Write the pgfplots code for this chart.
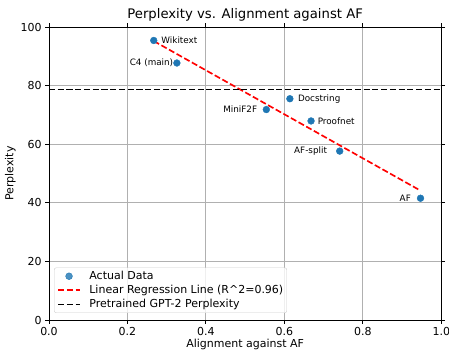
\documentclass[border=0pt]{standalone}
\usepackage{pgfplots}
\pgfplotsset{compat=1.18}
\usepackage{fontspec}
\setmainfont{DejaVu Sans}
\definecolor{tabblue}{HTML}{1F77B4}
\begin{document}
\begin{tikzpicture}
\useasboundingbox (-49pt,-32pt) rectangle (400pt,320pt);
\begin{axis}[
  at={(0pt,0pt)}, anchor=south west,
  scale only axis,
  width=392.3pt, height=292.7pt,
  xmin=0, xmax=1, ymin=0, ymax=100,
  xtick={0,0.2,0.4,0.6,0.8,1.0},
  ytick={0,20,40,60,80,100},
  xticklabel style={/pgf/number format/.cd,fixed,fixed zerofill,precision=1},
  /pgf/number format/assume math mode=true,
  tick label style={font=\fontsize{11}{13}\selectfont},
  tick align=outside,
  major tick length=3.85pt,
  tick style={black, line width=0.88pt},
  axis line style={line width=0.88pt},
  grid=major,
  grid style={color=black!31, line width=0.88pt},
  title={Perplexity vs. Alignment against AF},
  title style={font=\fontsize{13.2}{15}\selectfont, yshift=-3pt},
  xlabel={Alignment against AF},
  ylabel={Perplexity},
  label style={font=\fontsize{11}{13}\selectfont},
  xlabel style={yshift=3pt},
  ylabel style={yshift=-2pt},
  legend cell align=left,
  legend style={at={(rel axis cs:0.0128,0.024)}, anchor=south west,
    font=\fontsize{11}{13}\selectfont, draw=black!20, rounded corners=2pt,
    fill=white, fill opacity=0.8, text opacity=1, inner xsep=3pt, inner ysep=3pt,
    nodes={inner sep=0.5pt}, column sep=8pt, row sep=3.2pt},
  legend image code/.code={\draw[#1] (0pt,0pt) -- (22pt,0pt);},
]
\addplot[only marks, mark=*, mark size=3.4pt, mark options={fill=tabblue, draw=tabblue},
  legend image code/.code={\draw[mark repeat=2,mark phase=2] plot coordinates {(0pt,0pt) (11pt,0pt) (22pt,0pt)};}]
  coordinates {
  (0.267,95.5) (0.326,87.8) (0.554,71.9) (0.614,75.6) (0.668,68.0) (0.741,57.7) (0.947,41.6)
  };
\addlegendentry{Actual Data}
\addplot[red, line width=1.65pt, dash pattern=on 6.1pt off 2.64pt]
  coordinates {(0.267,95.3) (0.947,44.2)};
\addlegendentry{Linear Regression Line (R\^{}2=0.96)}
\addplot[black, line width=1.65pt, dash pattern=on 6.1pt off 2.64pt]
  coordinates {(0,78.8) (1,78.8)};
\addlegendentry{Pretrained GPT-2 Perplexity}
\begin{scope}[every node/.style={font=\fontsize{8.8}{10}\selectfont, inner sep=0pt}]
\node[anchor=west] at (axis cs:0.267,95.5) [xshift=7.5pt] {Wikitext};
\node[anchor=east] at (axis cs:0.326,87.8) [xshift=-3.5pt] {C4 (main)};
\node[anchor=east] at (axis cs:0.554,71.9) [xshift=-9pt] {MiniF2F};
\node[anchor=west] at (axis cs:0.614,75.6) [xshift=8pt] {Docstring};
\node[anchor=west] at (axis cs:0.668,68.0) [xshift=6.5pt] {Proofnet};
\node[anchor=east] at (axis cs:0.741,57.7) [xshift=-12.5pt] {AF-split};
\node[anchor=east] at (axis cs:0.947,41.6) [xshift=-9.5pt] {AF};
\end{scope}
\end{axis}
\end{tikzpicture}
\end{document}
